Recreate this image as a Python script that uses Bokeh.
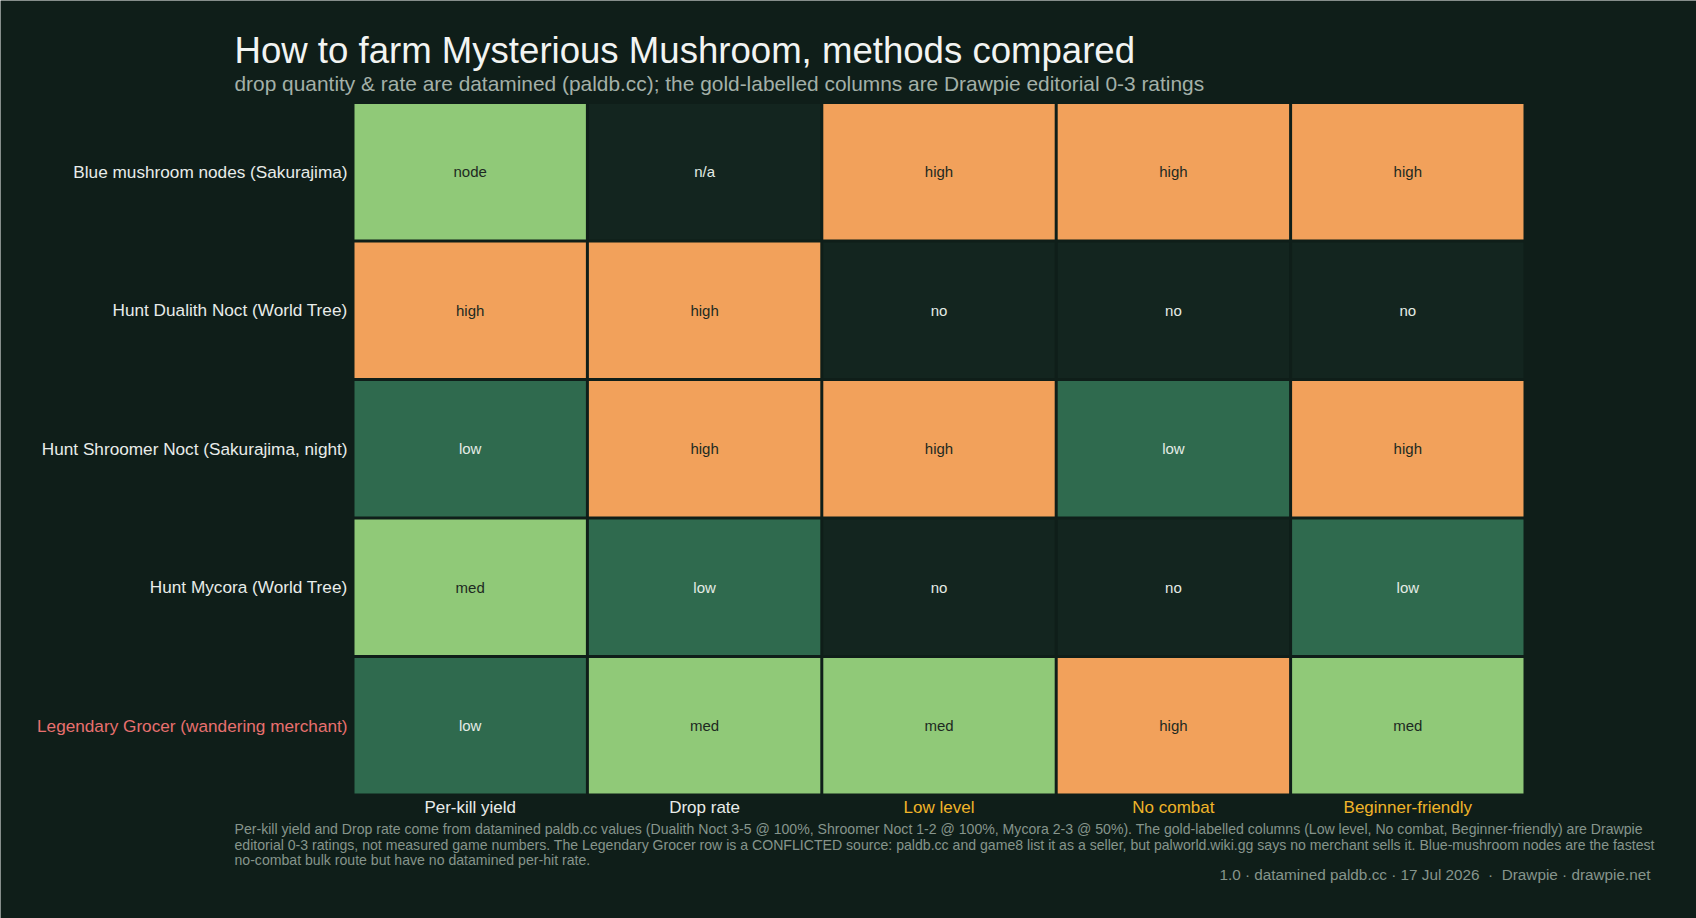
from bokeh.plotting import figure
from bokeh.models import ColumnDataSource, Label, Range1d
from bokeh.embed import file_html
from bokeh.resources import INLINE
from bokeh.core.properties import value

# ---- data ----
rows = [
    "Blue mushroom nodes (Sakurajima)",
    "Hunt Dualith Noct (World Tree)",
    "Hunt Shroomer Noct (Sakurajima, night)",
    "Hunt Mycora (World Tree)",
    "Legendary Grocer (wandering merchant)",
]
cols = ["Per-kill yield", "Drop rate", "Low level", "No combat", "Beginner-friendly"]
gold_cols = ["Low level", "No combat", "Beginner-friendly"]
flagged_rows = ["Legendary Grocer (wandering merchant)"]
ratings = [
    ["node", "n/a", "high", "high", "high"],
    ["high", "high", "no", "no", "no"],
    ["low", "high", "high", "low", "high"],
    ["med", "low", "no", "no", "low"],
    ["low", "med", "med", "high", "med"],
]
title = "How to farm Mysterious Mushroom, methods compared"
subtitle = "drop quantity & rate are datamined (paldb.cc); the gold-labelled columns are Drawpie editorial 0-3 ratings"
footnote = [
    "Per-kill yield and Drop rate come from datamined paldb.cc values (Dualith Noct 3-5 @ 100%, Shroomer Noct 1-2 @ 100%, Mycora 2-3 @ 50%). The gold-labelled columns (Low level, No combat, Beginner-friendly) are Drawpie",
    "editorial 0-3 ratings, not measured game numbers. The Legendary Grocer row is a CONFLICTED source: paldb.cc and game8 list it as a seller, but palworld.wiki.gg says no merchant sells it. Blue-mushroom nodes are the fastest",
    "no-combat bulk route but have no datamined per-hit rate.",
]
credits = "1.0 \u00b7 datamined paldb.cc \u00b7 17 Jul 2026 \u00a0\u00b7\u00a0 Drawpie \u00b7 drawpie.net"

# ---- styles / layout ----
BG = "#0f1e19"
FONT = "Liberation Sans"
fill_map = {"high": "#f2a15b", "med": "#90c978", "node": "#90c978", "low": "#2f6a4e", "no": "#13251f", "n/a": "#13251f"}
text_map = {"high": "#1d2a22", "med": "#1d2a22", "node": "#1d2a22", "low": "#e4ece6", "no": "#e4ece6", "n/a": "#e4ece6"}

W, H = 1696, 918
GL, GR, GT, GB = 352.5, 1524.5, 102.0, 794.5   # grid box in pixels
GAP = 3
ncol, nrow = len(cols), len(rows)
ux = (GR - GL) / ncol                          # px per column unit
uy = (GB - GT) / nrow                          # px per row unit

# column j centred at j+0.5, row i (top-down) centred at nrow-i-0.5
xs, ys, labs, fills, tcols = [], [], [], [], []
for i, row in enumerate(rows):
    for j, col in enumerate(cols):
        v = ratings[i][j]
        xs.append(j + 0.5); ys.append(nrow - i - 0.5); labs.append(v)
        fills.append(fill_map[v]); tcols.append(text_map[v])
src = ColumnDataSource(dict(x=xs, y=ys, label=labs, fill=fills, tcol=tcols))

p = figure(
    width=W, height=H,
    x_range=Range1d(-GL / ux, (W - GL) / ux), y_range=Range1d(-(H - GB) / uy, GB / uy),
    output_backend="svg", toolbar_location=None, title_location=None,
    min_border=0,
)
p.background_fill_color = BG
p.border_fill_color = BG
p.outline_line_color = None
p.axis.visible = False
p.grid.visible = False

p.rect(x="x", y="y", width=1 - GAP / ux, height=1 - GAP / uy, source=src,
       fill_color="fill", line_color=None)
p.text(x="x", y="y", text="label", source=src, text_color="tcol",
       text_align="center", text_baseline="middle",
       text_font=value(FONT), text_font_size="15px")

def px_x(px):
    return (px - GL) / ux

def px_y(py):
    return (GB - py) / uy

# row labels
for i, r in enumerate(rows):
    p.add_layout(Label(x=px_x(347), y=nrow - i - 0.5, text=r, text_align="right", text_baseline="middle",
                       text_font=FONT, text_font_size="17.2px",
                       text_color="#e8706f" if r in flagged_rows else "#e8ece9"))
# column labels
for j, c in enumerate(cols):
    p.add_layout(Label(x=j + 0.5, y=px_y(807), text=c, text_align="center", text_baseline="middle",
                       text_font=FONT, text_font_size="17px",
                       text_color="#f0b429" if c in gold_cols else "#e8ece9"))

p.add_layout(Label(x=px_x(234), y=px_y(50), text=title, text_align="left", text_baseline="middle",
                   text_font=FONT, text_font_size="36.6px", text_color="#f2f4f2"))
p.add_layout(Label(x=px_x(234), y=px_y(83), text=subtitle, text_align="left", text_baseline="middle",
                   text_font=FONT, text_font_size="20.9px", text_color="#a3b0a8"))
for k, line in enumerate(footnote):
    p.add_layout(Label(x=px_x(234), y=px_y(828.5 + k * 15.5), text=line, text_align="left", text_baseline="middle",
                       text_font=FONT, text_font_size="14.1px", text_color="#86958c"))
p.add_layout(Label(x=px_x(1650), y=px_y(874), text=credits, text_align="right", text_baseline="middle",
                   text_font=FONT, text_font_size="15.3px", text_color="#86958c"))

open("out.html", "w").write(file_html(p, INLINE))
